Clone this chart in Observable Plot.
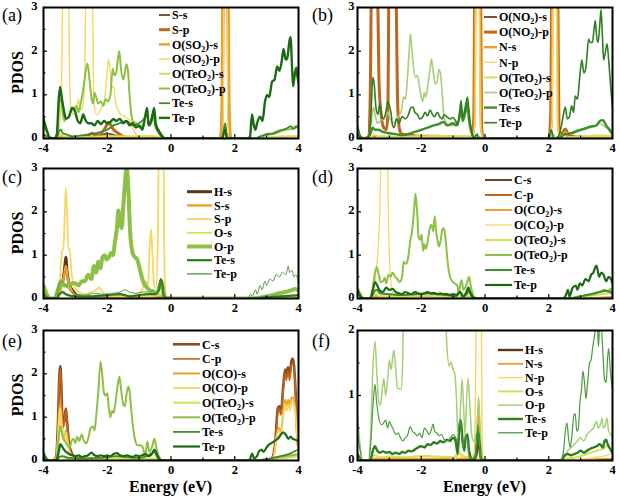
<!DOCTYPE html>
<html><head><meta charset="utf-8">
<script src="https://cdn.jsdelivr.net/npm/d3@7"></script>
<script src="https://cdn.jsdelivr.net/npm/@observablehq/plot@0.6"></script>
<style>
body{margin:0;background:#fff}
#fig{position:relative;width:620px;height:496px;background:#fff;overflow:hidden}
.panel{position:absolute}
</style></head><body><div id="fig"></div>
<script>
// ---------- tick values ----------
const xTicks = [-4, -2, 0, 2, 4];
const xMinor = [-3, -1, 1, 3];
const yTicks3 = [0, 1, 2, 3];
const yTicks2 = [0, 1, 2];
const yMinor3 = [0.5, 1.5, 2.5];
const yMinor2 = [0.5, 1.5];

// ---------- legend names ----------
const namesA = ["S-s", "S-p", "O(SO_2)-s", "O(SO_2)-p", "O(TeO_2)-s", "O(TeO_2)-p", "Te-s", "Te-p"];
const namesB = ["O(NO_2)-s", "O(NO_2)-p", "N-s", "N-p", "O(TeO_2)-s", "O(TeO_2)-p", "Te-s", "Te-p"];
const namesC = ["H-s", "S-s", "S-p", "O-s", "O-p", "Te-s", "Te-p"];
const namesD = ["C-s", "C-p", "O(CO_2)-s", "O(CO_2)-p", "O(TeO_2)-s", "O(TeO_2)-p", "Te-s", "Te-p"];
const namesE = ["C-s", "C-p", "O(CO)-s", "O(CO)-p", "O(TeO_2)-s", "O(TeO_2)-p", "Te-s", "Te-p"];
const namesF = ["H-s", "N-s", "N-p", "O-s", "O-p", "Te-s", "Te-p"];

// ---------- panel (a) ----------
const a_Ss = [[-4,0],[-2.7,0],[-2.5,0.03],[-2.3,0.06],[-2.15,0.08],[-2.0,0.12],[-1.9,0.1],[-1.75,0.07],[-1.6,0.04],[-1.4,0.02],[-1.2,0],[4,0]];
const a_Sp = [[-4,0],[-2.9,0],[-2.75,0.02],[-2.6,0.07],[-2.48,0.12],[-2.38,0.08],[-2.25,0.08],[-2.12,0.18],[-2.02,0.3],[-1.96,0.37],[-1.9,0.32],[-1.82,0.22],[-1.72,0.15],[-1.6,0.09],[-1.5,0.05],[-1.35,0.02],[-1.2,0],[1.55,0],[1.61,0.6],[1.64,3.5],[1.78,3.5],[1.81,0.6],[1.87,0],[4,0]];
const a_OSO2s = [[-4,0.02],[-3.6,0],[-3.45,0.05],[-3.3,0.03],[-2.6,0.03],[-2.0,0.05],[-1.5,0.02],[-1.0,0],[1.55,0],[1.59,0.8],[1.62,3.5],[1.8,3.5],[1.83,0.8],[1.88,0],[4,0]];
const a_OSO2p = [[-4,0.05],[-3.75,0],[-3.6,0.02],[-3.5,0.3],[-3.44,1.0],[-3.39,3.5],[-3.22,3.5],[-3.17,1.0],[-3.1,0.6],[-3.02,0.55],[-2.95,0.75],[-2.9,0.9],[-2.85,0.65],[-2.78,0.7],[-2.72,1.1],[-2.66,3.5],[-2.47,3.5],[-2.42,0.9],[-2.34,0.55],[-2.25,0.6],[-2.15,0.75],[-2.08,0.9],[-2.02,1.4],[-1.96,1.82],[-1.91,1.55],[-1.86,1.15],[-1.8,1.2],[-1.74,0.85],[-1.66,0.65],[-1.56,0.55],[-1.45,0.5],[-1.35,0.45],[-1.25,0.35],[-1.15,0.15],[-1.05,0.06],[-0.9,0.02],[-0.5,0],[1.6,0],[1.64,0.6],[1.66,3.5],[1.76,3.5],[1.78,0.6],[1.82,0],[4,0.02]];
const a_OTeO2s = [[-4,0.05],[-3.8,0],[-3.6,0],[-3.5,0.1],[-3.4,0.06],[-3.0,0.04],[-2.5,0.03],[-2.0,0.05],[-1.5,0.05],[-1.0,0.05],[-0.6,0.06],[-0.3,0.02],[-0.1,0],[2.6,0],[3.0,0.02],[3.5,0.05],[4,0.06]];
const a_OTeO2p = [[-4,0.3],[-3.9,0.15],[-3.8,0],[-3.6,0],[-3.55,0.3],[-3.5,0.85],[-3.45,0.9],[-3.4,0.6],[-3.35,0.4],[-3.3,0.45],[-3.2,0.5],[-3.12,0.7],[-3.05,0.65],[-2.97,0.75],[-2.9,0.6],[-2.85,0.75],[-2.78,1.0],[-2.72,1.3],[-2.66,1.6],[-2.62,1.72],[-2.55,1.3],[-2.5,0.95],[-2.45,0.8],[-2.4,1.05],[-2.35,0.95],[-2.28,0.8],[-2.2,0.85],[-2.12,0.75],[-2.05,0.9],[-1.98,0.85],[-1.9,1.0],[-1.83,1.6],[-1.78,1.45],[-1.72,1.5],[-1.66,1.85],[-1.62,2.0],[-1.57,1.6],[-1.5,1.35],[-1.45,1.5],[-1.4,1.7],[-1.35,1.55],[-1.3,1.0],[-1.25,0.6],[-1.2,0.4],[-1.1,0.35],[-1.0,0.25],[-0.9,0.3],[-0.8,0.5],[-0.75,0.65],[-0.7,0.3],[-0.6,0.4],[-0.53,0.65],[-0.48,0.3],[-0.4,0.15],[-0.3,0.05],[-0.2,0],[1.6,0],[1.7,0.3],[1.76,0],[2.5,0],[2.8,0.03],[3.0,0.08],[3.2,0.1],[3.4,0.15],[3.6,0.2],[3.8,0.22],[3.9,0.28],[4,0.22]];
const a_Tes = [[-4,0.1],[-3.9,0.05],[-3.8,0],[-3.6,0],[-3.5,0.18],[-3.45,0.2],[-3.4,0.12],[-3.3,0.1],[-3.1,0.05],[-2.7,0.08],[-2.5,0.1],[-2.2,0.15],[-2.0,0.2],[-1.8,0.3],[-1.6,0.35],[-1.4,0.4],[-1.2,0.3],[-1.0,0.35],[-0.8,0.5],[-0.75,0.6],[-0.7,0.3],[-0.55,0.6],[-0.5,0.3],[-0.4,0.15],[-0.3,0.05],[-0.2,0],[1.6,0],[1.7,0.35],[1.76,0],[2.6,0],[2.8,0.05],[3.0,0.1],[3.2,0.12],[3.4,0.18],[3.6,0.22],[3.75,0.28],[3.85,0.22],[3.95,0.28],[4,0.25]];
const a_Tep = [[-4,0.45],[-3.9,0.2],[-3.8,0.02],[-3.65,0],[-3.58,0.1],[-3.53,0.8],[-3.48,1.18],[-3.42,0.9],[-3.35,0.6],[-3.3,0.45],[-3.2,0.5],[-3.1,0.7],[-3.0,0.6],[-2.95,0.45],[-2.85,0.35],[-2.75,0.55],[-2.7,0.45],[-2.6,0.35],[-2.5,0.35],[-2.4,0.3],[-2.3,0.4],[-2.2,0.33],[-2.1,0.4],[-2.0,0.35],[-1.9,0.38],[-1.8,0.45],[-1.72,0.4],[-1.6,0.45],[-1.5,0.35],[-1.4,0.4],[-1.3,0.3],[-1.2,0.35],[-1.1,0.25],[-1.0,0.3],[-0.9,0.2],[-0.8,0.55],[-0.75,0.7],[-0.7,0.3],[-0.6,0.45],[-0.53,0.7],[-0.48,0.35],[-0.4,0.2],[-0.3,0.08],[-0.2,0],[1.6,0],[1.7,0.2],[1.76,0],[2.4,0],[2.48,0.05],[2.54,0.55],[2.6,0.3],[2.65,0.2],[2.7,0.35],[2.8,0.5],[2.87,0.4],[2.95,0.85],[3.02,1.0],[3.08,0.95],[3.17,1.3],[3.25,1.35],[3.33,1.65],[3.4,1.55],[3.47,1.75],[3.53,2.05],[3.6,1.8],[3.65,1.85],[3.72,2.25],[3.75,2.32],[3.8,1.6],[3.83,1.2],[3.88,1.45],[3.93,1.62],[3.97,1.4],[4,1.3]];

// ---------- panel (b) ----------
const b_ONO2s = [[-4,0],[-3.6,0],[-3.5,0.03],[-3.0,0.03],[-2.5,0.02],[-1.0,0.02],[0,0],[4,0]];
const b_ONO2p = [[-4,0.05],[-3.8,0],[-3.65,0.05],[-3.6,1.0],[-3.56,3.5],[-3.38,3.5],[-3.32,1.2],[-3.25,0.5],[-3.18,0.25],[-3.1,0.2],[-3.05,0.5],[-3.01,3.5],[-2.8,3.5],[-2.74,0.8],[-2.68,0.2],[-2.6,0.1],[-2.4,0.08],[-2.0,0.05],[-1.5,0.05],[-1.0,0.03],[-0.5,0.02],[-0.4,0.05],[-0.35,0.5],[-0.32,3.5],[-0.14,3.5],[-0.11,0.3],[-0.05,0],[2.0,0],[2.06,0.5],[2.1,3.5],[2.28,3.5],[2.32,0.3],[2.38,0.05],[2.45,0.15],[2.52,0.22],[2.6,0.1],[2.7,0.05],[3,0.03],[4,0.02]];
const b_Ns = [[-4,0],[-0.45,0],[-0.33,0.3],[-0.3,3.5],[-0.16,3.5],[-0.13,0.3],[-0.05,0],[2.0,0],[2.09,0.3],[2.12,3.5],[2.26,3.5],[2.29,0.3],[2.35,0.05],[2.5,0.1],[2.6,0.03],[4,0.02]];
const b_Np = [[-4,0.02],[-3.5,0.02],[-0.4,0.02],[-0.31,0.4],[-0.28,3.5],[-0.18,3.5],[-0.15,0.4],[-0.08,0],[2.0,0],[2.11,0.4],[2.14,3.5],[2.24,3.5],[2.27,0.4],[2.33,0],[2.6,0.03],[3.0,0.05],[3.5,0.05],[4,0.03]];
const b_OTeO2s = [[-4,0.05],[-3.8,0],[-3.6,0],[-3.5,0.08],[-3.3,0.05],[-2.8,0.04],[-2.2,0.05],[-1.6,0.06],[-1.0,0.05],[-0.6,0.06],[-0.3,0.02],[0,0],[2.4,0],[3.0,0.04],[3.5,0.07],[4,0.06]];
const b_OTeO2p = [[-4,0.1],[-3.85,0],[-3.65,0],[-3.58,0.3],[-3.5,0.72],[-3.45,0.55],[-3.38,0.35],[-3.3,0.4],[-3.2,0.45],[-3.1,0.55],[-3.05,0.6],[-2.98,0.45],[-2.9,0.35],[-2.8,0.4],[-2.72,0.5],[-2.62,0.65],[-2.55,0.95],[-2.5,0.9],[-2.44,1.3],[-2.38,2.0],[-2.34,2.4],[-2.3,2.1],[-2.25,1.7],[-2.18,1.4],[-2.12,1.45],[-2.06,1.2],[-2.0,0.95],[-1.95,0.85],[-1.9,1.05],[-1.85,0.95],[-1.78,1.3],[-1.72,1.6],[-1.68,1.82],[-1.62,1.5],[-1.56,1.25],[-1.5,1.3],[-1.45,1.58],[-1.4,1.5],[-1.35,1.1],[-1.3,0.6],[-1.25,0.4],[-1.1,0.3],[-0.9,0.3],[-0.8,0.5],[-0.75,0.7],[-0.7,0.4],[-0.62,0.75],[-0.58,0.85],[-0.52,0.4],[-0.45,0.15],[-0.35,0.05],[-0.25,0.1],[-0.2,0.05],[0,0],[2.0,0],[2.15,0.1],[2.2,0],[2.4,0],[2.5,0.15],[2.7,0.1],[2.9,0.15],[3.1,0.2],[3.3,0.25],[3.5,0.3],[3.6,0.35],[3.7,0.3],[3.8,0.25],[4,0.2]];
const b_Tes = [[-4,0.1],[-3.85,0],[-3.7,0],[-3.6,0.1],[-3.52,0.25],[-3.45,0.2],[-3.35,0.2],[-3.2,0.15],[-3.0,0.12],[-2.8,0.1],[-2.6,0.08],[-2.4,0.1],[-2.2,0.15],[-2.0,0.2],[-1.8,0.25],[-1.6,0.3],[-1.45,0.33],[-1.3,0.38],[-1.2,0.3],[-1.0,0.35],[-0.9,0.3],[-0.8,0.5],[-0.75,0.7],[-0.7,0.4],[-0.6,0.65],[-0.55,0.8],[-0.5,0.45],[-0.42,0.15],[-0.35,0],[2.3,0],[2.5,0.1],[2.7,0.12],[2.9,0.18],[3.1,0.22],[3.3,0.27],[3.5,0.3],[3.6,0.4],[3.7,0.42],[3.8,0.3],[3.9,0.2],[4,0.1]];
const b_Tep = [[-4,0.3],[-3.9,0.05],[-3.8,0],[-3.65,0],[-3.58,0.5],[-3.52,1.4],[-3.47,1.2],[-3.42,0.7],[-3.36,0.55],[-3.3,0.8],[-3.25,0.55],[-3.18,0.45],[-3.1,0.65],[-3.05,0.85],[-3.0,0.75],[-2.95,0.6],[-2.9,0.3],[-2.85,0.25],[-2.78,0.45],[-2.7,0.35],[-2.6,0.5],[-2.5,0.45],[-2.4,0.55],[-2.33,0.7],[-2.26,0.72],[-2.2,0.6],[-2.12,0.55],[-2.05,0.45],[-1.95,0.5],[-1.88,0.6],[-1.8,0.52],[-1.72,0.65],[-1.65,0.55],[-1.58,0.5],[-1.5,0.6],[-1.42,0.5],[-1.35,0.45],[-1.28,0.55],[-1.2,0.5],[-1.1,0.45],[-1.0,0.48],[-0.92,0.4],[-0.85,0.3],[-0.8,0.6],[-0.75,0.87],[-0.7,0.5],[-0.62,0.7],[-0.55,0.95],[-0.5,0.6],[-0.45,0.3],[-0.4,0.1],[-0.35,0],[-0.25,0.1],[-0.2,0],[2.0,0],[2.08,0.2],[2.15,0],[2.3,0.05],[2.4,0.3],[2.46,0.55],[2.52,0.72],[2.58,0.45],[2.65,0.5],[2.72,0.75],[2.78,0.6],[2.83,0.97],[2.9,0.9],[2.97,1.4],[3.04,1.8],[3.1,1.5],[3.16,1.6],[3.2,1.9],[3.25,2.28],[3.3,2.2],[3.37,2.2],[3.42,2.5],[3.46,2.7],[3.5,2.35],[3.55,2.2],[3.6,2.6],[3.64,2.95],[3.68,2.4],[3.72,1.8],[3.77,1.95],[3.83,2.17],[3.88,1.8],[3.93,1.3],[4,0.7]];

// ---------- panel (c) ----------
const c_Hs = [[-4,0],[-3.7,0],[-3.55,0.05],[-3.45,0.3],[-3.38,0.45],[-3.33,0.75],[-3.3,0.95],[-3.26,0.6],[-3.2,0.35],[-3.1,0.2],[-3.0,0.1],[-2.85,0.05],[-2.6,0.02],[-2,0.03],[-1,0.03],[0,0],[4,0]];
const c_Ss = [[-4,0],[-3.6,0],[-3.5,0.1],[-3.42,0.35],[-3.36,0.5],[-3.3,0.75],[-3.25,0.5],[-3.18,0.3],[-3.1,0.15],[-3.0,0.08],[-2.8,0.03],[-2,0.02],[-1,0.02],[-0.3,0.05],[0,0],[4,0]];
const c_Sp = [[-4,0.05],[-3.7,0],[-3.55,0.1],[-3.48,0.5],[-3.42,1.1],[-3.38,1.15],[-3.33,2.0],[-3.3,2.55],[-3.26,2.0],[-3.22,1.15],[-3.18,1.15],[-3.12,0.6],[-3.05,0.3],[-2.9,0.15],[-2.7,0.1],[-2.5,0.15],[-2.35,0.2],[-2.25,0.25],[-2.15,0.15],[-2.0,0.08],[-1.8,0.05],[-1.5,0.05],[-1.2,0.05],[-1.0,0.1],[-0.85,0.3],[-0.78,0.4],[-0.72,0.3],[-0.68,1.0],[-0.63,1.6],[-0.58,1.0],[-0.53,0.3],[-0.47,0.25],[-0.41,1.5],[-0.38,3.5],[-0.24,3.5],[-0.2,0.5],[-0.15,0.05],[0,0],[3,0],[3.5,0.02],[4,0.05]];
const c_Os = [[-4,0.1],[-3.8,0],[-3.6,0],[-3.5,0.1],[-3.4,0.12],[-3.2,0.06],[-2.8,0.05],[-2.2,0.06],[-1.6,0.08],[-1.2,0.06],[-0.6,0.05],[-0.3,0.1],[-0.15,0],[2.5,0],[3.0,0.03],[3.5,0.06],[4,0.08]];
const c_Op = [[-4,0.3],[-3.9,0.1],[-3.8,0],[-3.65,0],[-3.55,0.2],[-3.45,0.4],[-3.35,0.3],[-3.2,0.3],[-3.1,0.35],[-3.0,0.35],[-2.9,0.3],[-2.8,0.4],[-2.7,0.4],[-2.6,0.55],[-2.5,0.45],[-2.42,0.75],[-2.35,0.6],[-2.28,0.85],[-2.22,0.7],[-2.15,0.95],[-2.08,1.0],[-2.02,0.9],[-1.95,0.95],[-1.88,1.05],[-1.82,1.0],[-1.76,1.3],[-1.7,1.6],[-1.65,2.03],[-1.6,1.75],[-1.55,1.62],[-1.5,2.1],[-1.45,2.6],[-1.39,3.0],[-1.33,2.4],[-1.28,1.5],[-1.23,1.15],[-1.18,1.0],[-1.12,0.95],[-1.06,0.9],[-1.0,0.75],[-0.92,0.5],[-0.85,0.35],[-0.75,0.25],[-0.65,0.18],[-0.55,0.15],[-0.45,0.12],[-0.35,0.3],[-0.3,0.4],[-0.25,0.2],[-0.2,0.03],[0,0],[2.5,0],[2.8,0.02],[3.0,0.05],[3.2,0.08],[3.4,0.12],[3.6,0.15],[3.8,0.2],[3.9,0.22],[4,0.18]];
const c_Tes = [[-4,0.1],[-3.8,0],[-3.6,0],[-3.5,0.1],[-3.4,0.15],[-3.3,0.1],[-3.0,0.05],[-2.5,0.05],[-2,0.08],[-1.6,0.1],[-1.3,0.05],[-1,0.08],[-0.7,0.1],[-0.5,0.1],[-0.38,0.2],[-0.32,0.45],[-0.27,0.3],[-0.22,0.05],[-0.1,0],[2.5,0],[3,0.03],[3.5,0.05],[4,0.08]];
const c_Tep = [[-4,0.2],[-3.85,0],[-3.6,0],[-3.52,0.3],[-3.45,0.4],[-3.35,0.35],[-3.2,0.2],[-3.0,0.1],[-2.7,0.08],[-2.4,0.12],[-2.2,0.1],[-2.0,0.1],[-1.8,0.12],[-1.6,0.15],[-1.45,0.2],[-1.3,0.15],[-1.1,0.12],[-0.9,0.15],[-0.7,0.15],[-0.55,0.2],[-0.45,0.1],[-0.32,0.4],[-0.25,0.2],[-0.15,0],[2.4,0],[2.5,0.1],[2.55,0.05],[2.65,0.2],[2.7,0.1],[2.8,0.3],[2.85,0.2],[2.95,0.4],[3.0,0.3],[3.1,0.45],[3.2,0.4],[3.3,0.55],[3.4,0.5],[3.5,0.6],[3.6,0.55],[3.68,0.75],[3.72,0.6],[3.8,0.65],[3.85,0.5],[3.92,0.55],[4,0.35]];

// ---------- panel (d) ----------
const d_Cs = [[-4,0],[-3.6,0],[-3.45,0.03],[-3.2,0.02],[-2,0.02],[0,0],[4,0]];
const d_Cp = [[-4,0],[-3.55,0],[-3.4,0.05],[-3.2,0.03],[-2.5,0.02],[-1,0.02],[0,0],[3,0],[4,0.03]];
const d_OCO2s = [[-4,0],[-3.6,0],[-3.4,0.04],[-3.1,0.03],[0,0],[4,0.02]];
const d_OCO2p = [[-4,0],[-3.6,0],[-3.48,0.15],[-3.42,0.6],[-3.35,1.2],[-3.3,2.0],[-3.26,3.5],[-3.07,3.5],[-3.02,1.5],[-2.97,0.5],[-2.9,0.15],[-2.8,0.05],[-2,0.02],[0,0],[4,0]];
const d_OTeO2s = [[-4,0.1],[-3.8,0],[-3.6,0],[-3.45,0.1],[-3.3,0.06],[-3.0,0.05],[-2.2,0.06],[-1.6,0.08],[-1.0,0.05],[-0.5,0.05],[-0.3,0],[2.6,0],[3.2,0.05],[3.6,0.1],[4,0.12]];
const d_OTeO2p = [[-4,0.25],[-3.9,0.1],[-3.8,0],[-3.6,0],[-3.52,0.25],[-3.45,0.6],[-3.4,0.72],[-3.33,0.55],[-3.27,0.38],[-3.2,0.4],[-3.15,0.48],[-3.1,0.35],[-3.03,0.55],[-2.96,0.5],[-2.9,0.6],[-2.82,0.5],[-2.75,0.45],[-2.68,0.38],[-2.6,0.5],[-2.55,0.85],[-2.48,0.8],[-2.42,0.9],[-2.35,1.3],[-2.28,1.6],[-2.22,2.1],[-2.18,2.42],[-2.13,2.0],[-2.08,1.4],[-2.04,1.35],[-1.99,1.47],[-1.94,1.1],[-1.9,1.25],[-1.85,1.15],[-1.8,1.3],[-1.74,1.6],[-1.68,1.7],[-1.62,1.55],[-1.58,1.9],[-1.54,1.6],[-1.48,1.3],[-1.44,1.2],[-1.38,1.4],[-1.33,1.6],[-1.29,1.62],[-1.24,1.4],[-1.18,0.9],[-1.1,0.5],[-1.03,0.4],[-0.95,0.35],[-0.87,0.3],[-0.82,0.1],[-0.77,0.35],[-0.73,0.42],[-0.68,0.2],[-0.62,0.25],[-0.55,0.4],[-0.5,0.5],[-0.45,0.3],[-0.38,0.1],[-0.3,0.02],[0,0],[2.5,0],[2.8,0.02],[3.0,0.05],[3.2,0.08],[3.4,0.1],[3.6,0.15],[3.75,0.2],[3.85,0.15],[3.92,0.22],[4,0.15]];
const d_Tes = [[-4,0.15],[-3.85,0],[-3.6,0],[-3.48,0.15],[-3.4,0.2],[-3.3,0.12],[-3.0,0.1],[-2.6,0.08],[-2.2,0.1],[-1.8,0.12],[-1.5,0.1],[-1.2,0.08],[-0.9,0.06],[-0.77,0.15],[-0.7,0.05],[-0.55,0.12],[-0.5,0.18],[-0.42,0.05],[-0.3,0],[2.6,0],[3.0,0.05],[3.3,0.1],[3.6,0.15],[3.8,0.18],[4,0.12]];
const d_Tep = [[-4,0.2],[-3.9,0.05],[-3.8,0],[-3.6,0],[-3.52,0.2],[-3.45,0.38],[-3.38,0.3],[-3.3,0.18],[-3.2,0.15],[-3.1,0.25],[-3.0,0.2],[-2.9,0.22],[-2.8,0.15],[-2.7,0.12],[-2.6,0.1],[-2.5,0.15],[-2.4,0.12],[-2.3,0.1],[-2.2,0.15],[-2.1,0.12],[-2.0,0.1],[-1.9,0.12],[-1.8,0.15],[-1.7,0.12],[-1.6,0.13],[-1.5,0.1],[-1.4,0.12],[-1.3,0.1],[-1.2,0.1],[-1.1,0.08],[-1.0,0.1],[-0.9,0.08],[-0.8,0.15],[-0.75,0.12],[-0.7,0.05],[-0.6,0.12],[-0.52,0.25],[-0.47,0.15],[-0.4,0.05],[-0.3,0],[2.45,0],[2.55,0.1],[2.6,0.2],[2.65,0.05],[2.75,0.25],[2.85,0.3],[2.9,0.2],[2.98,0.35],[3.05,0.3],[3.15,0.45],[3.25,0.4],[3.33,0.55],[3.4,0.6],[3.46,0.72],[3.5,0.76],[3.58,0.5],[3.65,0.6],[3.72,0.55],[3.8,0.4],[3.88,0.5],[3.95,0.45],[4,0.35]];

// ---------- panel (e) ----------
const e_Cs = [[-4,0],[-3.7,0],[-3.6,0.1],[-3.55,0.8],[-3.5,2.0],[-3.47,2.18],[-3.43,1.5],[-3.4,0.8],[-3.35,0.9],[-3.3,1.2],[-3.26,0.9],[-3.2,0.4],[-3.1,0.15],[-3.0,0.08],[-2.8,0.03],[-2.5,0.02],[0,0],[3.1,0],[3.2,0.1],[3.28,0.5],[3.35,1.2],[3.4,1.25],[3.45,1.1],[3.52,1.7],[3.58,2.1],[3.62,1.95],[3.67,2.15],[3.72,1.95],[3.78,2.3],[3.82,2.35],[3.87,2.1],[3.92,1.4],[3.97,0.5],[4,0.3]];
const e_Cp = [[-4,0],[-3.7,0],[-3.6,0.08],[-3.55,0.7],[-3.5,1.9],[-3.47,2.1],[-3.43,1.4],[-3.4,0.75],[-3.35,0.85],[-3.3,1.15],[-3.26,0.85],[-3.2,0.35],[-3.1,0.12],[-3.0,0.06],[-2.8,0.02],[-2,0.01],[0,0],[3.1,0],[3.2,0.08],[3.28,0.45],[3.35,1.1],[3.4,1.2],[3.45,1.05],[3.52,1.6],[3.58,2.0],[3.62,1.85],[3.67,2.05],[3.72,1.85],[3.78,2.2],[3.82,2.25],[3.87,2.0],[3.92,1.3],[3.97,0.45],[4,0.25]];
const e_OCOs = [[-4,0],[-3.7,0],[-3.6,0.05],[-3.55,0.5],[-3.5,1.2],[-3.47,1.3],[-3.43,0.9],[-3.38,0.5],[-3.33,0.55],[-3.3,0.7],[-3.25,0.5],[-3.18,0.2],[-3.05,0.08],[-2.8,0.03],[0,0],[3.15,0],[3.25,0.2],[3.32,0.6],[3.38,0.75],[3.45,0.65],[3.52,1.1],[3.58,1.4],[3.63,1.25],[3.68,1.4],[3.73,1.25],[3.78,1.45],[3.83,1.45],[3.88,1.3],[3.93,0.9],[3.97,0.4],[4,0.25]];
const e_OCOp = [[-4,0],[-3.7,0],[-3.6,0.05],[-3.55,0.45],[-3.5,1.1],[-3.47,1.2],[-3.43,0.85],[-3.38,0.45],[-3.33,0.5],[-3.3,0.65],[-3.25,0.45],[-3.18,0.18],[-3.05,0.07],[-2.8,0.03],[0,0],[3.15,0],[3.25,0.18],[3.32,0.55],[3.38,0.7],[3.45,0.6],[3.52,1.0],[3.58,1.3],[3.63,1.15],[3.68,1.3],[3.73,1.15],[3.78,1.35],[3.83,1.35],[3.88,1.2],[3.93,0.85],[3.97,0.4],[4,0.25]];
const e_OTeO2s = [[-4,0.1],[-3.8,0],[-3.6,0],[-3.48,0.1],[-3.3,0.05],[-3.0,0.03],[-2.2,0.05],[-1.6,0.06],[-1.0,0.04],[-0.5,0.04],[-0.3,0],[2.6,0],[3.0,0.02],[3.4,0.05],[3.8,0.08],[4,0.1]];
const e_OTeO2p = [[-4,0.2],[-3.9,0.05],[-3.8,0],[-3.6,0],[-3.55,0.3],[-3.47,0.8],[-3.4,0.55],[-3.33,0.45],[-3.25,0.35],[-3.18,0.3],[-3.12,0.45],[-3.06,0.5],[-3.0,0.4],[-2.94,0.55],[-2.88,0.45],[-2.8,0.6],[-2.73,0.45],[-2.66,0.4],[-2.6,0.5],[-2.52,0.75],[-2.45,0.78],[-2.4,0.7],[-2.35,1.0],[-2.28,1.6],[-2.21,2.28],[-2.16,2.0],[-2.1,1.55],[-2.05,1.5],[-2.0,1.55],[-1.95,1.2],[-1.9,1.0],[-1.85,1.15],[-1.8,1.1],[-1.75,1.3],[-1.68,1.7],[-1.62,1.93],[-1.56,1.6],[-1.5,1.3],[-1.45,1.25],[-1.4,1.5],[-1.34,1.7],[-1.3,1.6],[-1.25,1.2],[-1.18,0.7],[-1.12,0.45],[-1.05,0.35],[-0.95,0.35],[-0.88,0.3],[-0.82,0.1],[-0.77,0.3],[-0.74,0.43],[-0.68,0.2],[-0.6,0.3],[-0.52,0.5],[-0.46,0.3],[-0.38,0.1],[-0.3,0.02],[0,0],[2.5,0],[3.0,0.03],[3.2,0.05],[3.4,0.08],[3.6,0.1],[3.8,0.12],[4,0.15]];
const e_Tes = [[-4,0.1],[-3.85,0],[-3.6,0],[-3.5,0.08],[-3.4,0.1],[-3.2,0.06],[-2.8,0.05],[-2.2,0.06],[-1.7,0.1],[-1.4,0.08],[-1.0,0.06],[-0.75,0.1],[-0.52,0.2],[-0.45,0.1],[-0.35,0],[2.6,0],[3.0,0.03],[3.3,0.08],[3.6,0.13],[3.8,0.18],[3.9,0.22],[4,0.25]];
const e_Tep = [[-4,0.15],[-3.85,0],[-3.6,0],[-3.52,0.2],[-3.47,0.38],[-3.4,0.3],[-3.3,0.2],[-3.2,0.15],[-3.1,0.12],[-3.0,0.1],[-2.9,0.12],[-2.8,0.08],[-2.7,0.1],[-2.6,0.12],[-2.5,0.18],[-2.4,0.12],[-2.3,0.1],[-2.2,0.12],[-2.1,0.1],[-2.0,0.12],[-1.9,0.1],[-1.8,0.15],[-1.7,0.17],[-1.6,0.12],[-1.5,0.1],[-1.4,0.12],[-1.3,0.1],[-1.2,0.08],[-1.1,0.12],[-1.0,0.1],[-0.9,0.12],[-0.8,0.15],[-0.7,0.1],[-0.6,0.15],[-0.52,0.25],[-0.45,0.15],[-0.38,0.05],[-0.3,0],[2.45,0],[2.55,0.16],[2.6,0.05],[2.7,0.1],[2.75,0.2],[2.85,0.25],[2.9,0.2],[3.0,0.3],[3.05,0.35],[3.15,0.4],[3.25,0.45],[3.35,0.5],[3.45,0.6],[3.52,0.65],[3.6,0.6],[3.68,0.5],[3.75,0.55],[3.82,0.5],[3.9,0.48],[4,0.45]];

// ---------- panel (f) ----------
const f_Hs = [[-4,0],[-3.6,0],[-3.5,0.02],[-2,0.02],[-0.3,0.02],[-0.24,0.2],[-0.2,0.5],[-0.17,0.2],[-0.12,0],[3,0],[4,0.02]];
const f_Ns = [[-4,0.02],[-3.8,0],[-3.5,0.03],[-3.0,0.03],[-2.0,0.03],[-1.0,0.03],[-0.6,0.03],[-0.35,0.05],[-0.26,0.3],[-0.21,0.82],[-0.17,0.3],[-0.12,0],[3.0,0],[3.5,0.02],[3.8,0.03],[4,0.02]];
const f_Np = [[-4,0],[-1,0],[-0.85,0.08],[-0.8,0.15],[-0.75,0.05],[-0.5,0.05],[-0.35,0.1],[-0.3,1.0],[-0.27,2.6],[-0.12,2.6],[-0.09,0.3],[-0.05,0],[2.5,0],[3,0.02],[3.5,0.05],[4,0.1]];
const f_Os = [[-4,0.08],[-3.85,0],[-3.6,0],[-3.5,0.08],[-3.3,0.05],[-3.0,0.06],[-2.5,0.05],[-2.0,0.07],[-1.5,0.06],[-1.0,0.05],[-0.8,0.1],[-0.6,0.05],[-0.3,0.05],[-0.15,0],[2.4,0],[2.6,0.03],[2.9,0.05],[3.2,0.1],[3.5,0.15],[3.7,0.18],[3.85,0.22],[4,0.12]];
const f_Op = [[-4,0.68],[-3.93,0.3],[-3.85,0],[-3.65,0],[-3.58,0.5],[-3.52,1.4],[-3.45,1.83],[-3.4,1.4],[-3.33,0.9],[-3.28,0.85],[-3.22,1.1],[-3.17,1.26],[-3.12,1.0],[-3.06,1.2],[-3.0,1.55],[-2.95,1.4],[-2.9,1.55],[-2.86,1.7],[-2.8,1.4],[-2.75,1.12],[-2.68,1.1],[-2.62,1.1],[-2.58,1.6],[-2.55,2.6],[-1.25,2.6],[-1.2,1.8],[-1.12,1.45],[-1.07,1.52],[-1.0,1.4],[-0.95,1.34],[-0.9,1.0],[-0.86,0.5],[-0.82,0.4],[-0.76,0.9],[-0.72,1.25],[-0.67,0.8],[-0.63,0.4],[-0.58,0.9],[-0.53,1.26],[-0.48,0.9],[-0.42,0.4],[-0.35,0.3],[-0.3,0.35],[-0.25,0.5],[-0.2,0.98],[-0.16,0.6],[-0.1,0.05],[0,0],[2.35,0],[2.5,0.05],[2.6,0.15],[2.7,0.2],[2.8,0.25],[2.9,0.3],[3.0,0.35],[3.1,0.3],[3.2,0.4],[3.3,0.45],[3.4,0.5],[3.5,0.6],[3.55,0.5],[3.62,0.55],[3.67,0.65],[3.72,0.5],[3.78,0.55],[3.83,0.65],[3.88,0.45],[3.95,0.4],[4,0.35]];
const f_Tes = [[-4,0.1],[-3.9,0.02],[-3.8,0],[-3.6,0],[-3.52,0.15],[-3.45,0.22],[-3.38,0.15],[-3.3,0.12],[-3.2,0.14],[-3.1,0.12],[-3.0,0.13],[-2.9,0.1],[-2.8,0.12],[-2.7,0.1],[-2.6,0.13],[-2.5,0.12],[-2.4,0.15],[-2.3,0.14],[-2.2,0.17],[-2.1,0.2],[-2.0,0.22],[-1.9,0.2],[-1.8,0.25],[-1.7,0.24],[-1.6,0.28],[-1.5,0.26],[-1.4,0.3],[-1.3,0.28],[-1.2,0.32],[-1.1,0.3],[-1.0,0.35],[-0.92,0.3],[-0.86,0.1],[-0.8,0.5],[-0.76,0.62],[-0.7,0.3],[-0.65,0.15],[-0.6,0.38],[-0.55,0.4],[-0.5,0.15],[-0.4,0.02],[-0.3,0.05],[-0.22,0.45],[-0.18,0.3],[-0.12,0.02],[0,0],[2.4,0],[2.5,0.08],[2.6,0.1],[2.7,0.08],[2.8,0.1],[2.9,0.12],[3.0,0.15],[3.1,0.12],[3.2,0.15],[3.3,0.18],[3.4,0.2],[3.5,0.22],[3.6,0.25],[3.7,0.2],[3.75,0.3],[3.8,0.32],[3.85,0.25],[3.9,0.2],[4,0.12]];
const f_Tep = [[-4,0.4],[-3.93,0.2],[-3.85,0],[-3.65,0],[-3.58,0.3],[-3.5,0.95],[-3.45,1.17],[-3.4,0.9],[-3.33,0.65],[-3.25,0.55],[-3.18,0.58],[-3.12,0.62],[-3.05,0.5],[-3.0,0.6],[-2.95,0.55],[-2.88,0.48],[-2.8,0.4],[-2.73,0.42],[-2.65,0.35],[-2.58,0.3],[-2.5,0.35],[-2.42,0.4],[-2.35,0.52],[-2.28,0.45],[-2.2,0.42],[-2.12,0.38],[-2.05,0.42],[-1.98,0.35],[-1.9,0.5],[-1.82,0.45],[-1.75,0.4],[-1.68,0.48],[-1.63,0.56],[-1.58,0.45],[-1.5,0.42],[-1.43,0.38],[-1.36,0.4],[-1.28,0.32],[-1.2,0.3],[-1.12,0.33],[-1.05,0.38],[-0.98,0.4],[-0.92,0.35],[-0.86,0.3],[-0.8,0.62],[-0.76,0.55],[-0.7,0.2],[-0.65,0.3],[-0.6,0.38],[-0.55,0.3],[-0.5,0.05],[-0.4,0.02],[-0.3,0.1],[-0.22,0.55],[-0.18,0.3],[-0.12,0.02],[0,0],[2.35,0],[2.45,0.1],[2.52,0.45],[2.57,0.58],[2.62,0.35],[2.67,0.2],[2.73,0.4],[2.79,0.7],[2.83,0.72],[2.88,0.45],[2.93,0.5],[2.98,0.9],[3.03,1.1],[3.07,1.38],[3.12,1.2],[3.17,0.95],[3.22,1.2],[3.28,1.5],[3.33,1.55],[3.38,1.75],[3.43,1.9],[3.48,2.1],[3.52,2.15],[3.56,1.75],[3.6,2.1],[3.65,2.05],[3.7,1.65],[3.75,1.25],[3.8,1.2],[3.85,1.6],[3.88,1.72],[3.93,1.4],[3.97,1.2],[4,1.1]];

// ---------- styling ----------
const C = {dbrown:"#6b4322", obrown:"#c2651d", orange:"#e9a12b", yellow:"#f8d660", ygreen:"#d3e05a",
           green:"#8dc044", lgreen:"#a6cf76", mgreen:"#3e8e2c", dgreen:"#1d6a14", tgreen:"#4c9a3e", hbrown:"#5a3815"};
const FONT = "'Liberation Serif','Times New Roman',serif";

function st(colors, widths) { return colors.map((c, i) => ({color: c, w: widths[i]})); }

const panels = [
  {label:"(a)", left:0, top:0, h:160, mL:43, mR:12, mT:7, mB:22, ymax:3, ylab:true, xlab:false, labY:21,
   names:namesA, data:[a_Ss,a_Sp,a_OSO2s,a_OSO2p,a_OTeO2s,a_OTeO2p,a_Tes,a_Tep],
   style:st([C.dbrown,C.obrown,C.orange,C.yellow,C.ygreen,C.green,C.mgreen,C.dgreen],[1.8,3,2.4,1.4,2,2,1.8,2.4]),
   lg:{x1:159,x2:170,tx:172,y0:15,dy:14.7}},
  {label:"(b)", left:310, top:0, h:160, mL:47, mR:8, mT:7, mB:22, ymax:3, ylab:false, xlab:false, labY:21,
   names:namesB, data:[b_ONO2s,b_ONO2p,b_Ns,b_Np,b_OTeO2s,b_OTeO2p,b_Tes,b_Tep],
   style:st([C.dbrown,C.obrown,C.orange,C.yellow,C.ygreen,C.lgreen,C.mgreen,"#2f7f22"],[1.8,3,2.4,1.4,2,1.6,2.4,1.6]),
   lg:{x1:174,x2:187,tx:189,y0:17,dy:15.1}},
  {label:"(c)", left:0, top:160, h:160, mL:43, mR:12, mT:8, mB:22, ymax:3, ylab:true, xlab:false, labY:23,
   names:namesC, data:[c_Hs,c_Ss,c_Sp,c_Os,c_Op,c_Tes,c_Tep],
   style:st([C.hbrown,C.orange,C.yellow,C.ygreen,C.green,"#2a7a1e",C.tgreen],[3,2.4,1.8,1.8,4,2.2,1]),
   lg:{x1:187,x2:212,tx:214,y0:31.7,dy:13.7}},
  {label:"(d)", left:310, top:160, h:160, mL:47, mR:8, mT:8, mB:22, ymax:3, ylab:false, xlab:false, labY:23,
   names:namesD, data:[d_Cs,d_Cp,d_OCO2s,d_OCO2p,d_OTeO2s,d_OTeO2p,d_Tes,d_Tep],
   style:st([C.dbrown,C.obrown,C.orange,C.yellow,C.ygreen,C.green,C.mgreen,C.dgreen],[2,2,2,1.3,2,2,2,2.2]),
   lg:{x1:175,x2:202,tx:204,y0:20,dy:15}},
  {label:"(e)", left:0, top:320, h:176, mL:43, mR:12, mT:10, mB:36, ymax:3, ylab:true, xlab:true, labY:27,
   names:namesE, data:[e_Cs,e_Cp,e_OCOs,e_OCOp,e_OTeO2s,e_OTeO2p,e_Tes,e_Tep],
   style:st(["#8a4c1c",C.obrown,C.orange,C.yellow,C.ygreen,C.green,C.mgreen,C.dgreen],[2.6,1.6,2,1.8,2,2,1.8,2.2]),
   lg:{x1:173,x2:200,tx:202,y0:24.3,dy:14.6}},
  {label:"(f)", left:310, top:320, h:176, mL:47, mR:8, mT:10, mB:36, ymax:2, ylab:false, xlab:true, labY:27,
   names:namesF, data:[f_Hs,f_Ns,f_Np,f_Os,f_Op,f_Tes,f_Tep],
   style:st([C.hbrown,C.orange,C.yellow,C.ygreen,C.lgreen,"#2e7d1f",C.tgreen],[2.4,1.8,1.4,2,1.5,2.4,1.2]),
   lg:{x1:188,x2:213,tx:215,y0:30,dy:13.8}}
];

const fig = document.getElementById("fig");

panels.forEach(p => {
  const W = 310;
  const plotH = p.h - p.mT - p.mB;
  const plotW = W - p.mL - p.mR;
  const yT = p.ymax === 3 ? yTicks3 : yTicks2;
  const yM = p.ymax === 3 ? yMinor3 : yMinor2;
  const tMajY = p.ymax * 4 / plotH, tMinY = p.ymax * 2.5 / plotH;
  const tMajX = 8 * 4 / plotW, tMinX = 8 * 2.5 / plotW;

  const lines = p.data.map((d, i) => Plot.line(d, {
    x: v => v[0], y: v => v[1], stroke: p.style[i].color, strokeWidth: p.style[i].w,
    curve: "monotone-x", clip: true, strokeLinejoin: "round"
  }));

  const svg = Plot.plot({
    width: W, height: p.h,
    marginLeft: p.mL, marginRight: p.mR, marginTop: p.mT, marginBottom: p.mB,
    x: {domain: [-4, 4], label: null},
    y: {domain: [0, p.ymax], label: null},
    style: {fontFamily: FONT, fontSize: "12.5px", fontWeight: "bold", color: "black", background: "white", overflow: "visible"},
    marks: [
      ...lines,
      Plot.ruleX(xTicks, {y1: 0, y2: tMajY, stroke: "black", strokeWidth: 1.2}),
      Plot.ruleX(xMinor, {y1: 0, y2: tMinY, stroke: "black", strokeWidth: 1.2}),
      Plot.ruleY(yT, {x1: -4, x2: -4 + tMajX, stroke: "black", strokeWidth: 1.2}),
      Plot.ruleY(yM, {x1: -4, x2: -4 + tMinX, stroke: "black", strokeWidth: 1.2}),
      Plot.axisX(xTicks, {tickSize: 0, tickPadding: 5, tickFormat: d => String(d), fill: "black"}),
      Plot.axisY(yT, {tickSize: 0, tickPadding: p.ylab ? 6 : 3, dy: -1.5, tickFormat: d => String(d), fill: "black"}),
      Plot.frame({stroke: "black", strokeWidth: 2})
    ]
  });

  const s = d3.select(svg);
  // legend
  const g = s.append("g").attr("font-family", FONT).attr("font-weight", "bold").attr("font-size", 12)
    .attr("text-anchor", "start");
  p.names.forEach((name, i) => {
    const y = p.lg.y0 + i * p.lg.dy;
    g.append("line").attr("x1", p.lg.x1).attr("x2", p.lg.x2).attr("y1", y).attr("y2", y)
      .attr("stroke", p.style[i].color).attr("stroke-width", Math.max(p.style[i].w, 1.3));
    const t = g.append("text").attr("x", p.lg.tx).attr("y", y).attr("dy", "0.35em")
      .attr("text-anchor", "start").attr("fill", "black");
    const parts = name.split(/_(\d)/);
    parts.forEach((part, k) => {
      if (k % 2 === 1) {
        t.append("tspan").attr("font-size", 8).attr("dy", 3).text(part);
      } else if (part) {
        const ts = t.append("tspan").text(part);
        if (k > 0) ts.attr("dy", -3);
      }
    });
  });
  // panel label
  s.append("text").attr("x", 2).attr("y", p.labY).attr("text-anchor", "start").attr("font-family", FONT)
    .attr("font-size", 18).attr("font-weight", "normal").attr("fill", "black").text(p.label);
  // y label
  if (p.ylab) {
    const cy = p.mT + plotH / 2;
    s.append("text").attr("transform", `translate(17,${cy}) rotate(-90)`).attr("text-anchor", "middle")
      .attr("dy", "0.35em").attr("font-family", FONT).attr("font-size", 16).attr("font-weight", "bold")
      .attr("fill", "black").text("PDOS");
  }
  // x label
  if (p.xlab) {
    s.append("text").attr("x", p.mL + plotW / 2).attr("y", p.h - 4).attr("text-anchor", "middle")
      .attr("font-family", FONT).attr("font-size", 16).attr("font-weight", "bold").attr("fill", "black")
      .text("Energy (eV)");
  }

  const div = document.createElement("div");
  div.className = "panel";
  div.style.left = p.left + "px";
  div.style.top = p.top + "px";
  div.appendChild(svg);
  fig.appendChild(div);
});
</script></body></html>
